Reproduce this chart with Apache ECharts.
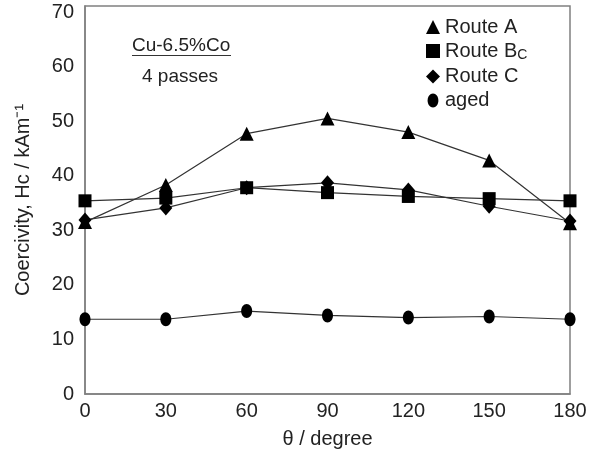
<!DOCTYPE html>
<html><head><meta charset="utf-8">
<script src="https://cdn.jsdelivr.net/npm/echarts@6/dist/echarts.min.js"></script>
<style>html,body{margin:0;padding:0;background:#fff}#c{width:592px;height:456px}</style>
</head><body><div id="c"></div>
<script>
var angles = [0, 30, 60, 90, 120, 150, 180];
var routeA = [31.5, 38.3, 47.7, 50.5, 48.0, 42.8, 31.3];
var routeBc = [35.4, 35.9, 37.8, 36.9, 36.2, 35.8, 35.4];
var routeC = [31.9, 34.1, 37.8, 38.7, 37.4, 34.4, 31.7];
var aged = [13.7, 13.7, 15.2, 14.4, 14.0, 14.2, 13.7];
var yTicks = [0, 10, 20, 30, 40, 50, 60, 70];

function pairs(v){ return angles.map(function(a,i){ return [a, v[i]]; }); }
var font = 'Liberation Sans, Arial, sans-serif';
var ellipse = 'path://M5,0 C7.8,0 10,2.9 10,6.5 C10,10.1 7.8,13 5,13 C2.2,13 0,10.1 0,6.5 C0,2.9 2.2,0 5,0 Z';
function ser(name, data, symbol, size){
  return {name:name, type:'line', data:pairs(data), symbol:symbol, symbolSize:size,
    lineStyle:{color:'#333', width:1.2}, itemStyle:{color:'#000', borderWidth:0},
    emphasis:{disabled:true}, animation:false};
}
var chart = echarts.init(document.getElementById('c'));
chart.setOption({
  animation:false,
  grid:{left:85, right:22, top:6, bottom:62, show:true, borderColor:'#808080', borderWidth:1.5, containLabel:false},
  xAxis:{type:'value', min:0, max:180, interval:30,
    name:'θ / degree', nameLocation:'middle', nameGap:35,
    nameTextStyle:{fontFamily:font, fontSize:20, color:'#222'},
    axisLine:{show:true, lineStyle:{color:'#808080', width:1.5}}, axisTick:{show:false}, splitLine:{show:false},
    axisLabel:{fontFamily:font, fontSize:20, color:'#222', margin:7}},
  yAxis:{type:'value', min:0, max:71.1, interval:10,
    name:'Coercivity, Hc / kAm⁻¹', nameLocation:'middle', nameGap:52,
    nameTextStyle:{fontFamily:font, fontSize:20, color:'#222'},
    axisLine:{show:true, lineStyle:{color:'#808080', width:1.5}}, axisTick:{show:false}, splitLine:{show:false},
    axisLabel:{fontFamily:font, fontSize:20, color:'#222', margin:11, showMaxLabel:false,
      formatter:function(v){ return yTicks.indexOf(v) >= 0 ? String(v) : ''; }}},
  legend:{orient:'vertical', left:421, top:12, itemGap:4, itemWidth:14, itemHeight:14,
    textStyle:{fontFamily:font, fontSize:20, color:'#222',
      rich:{sub:{fontFamily:font, fontSize:14, color:'#222', verticalAlign:'bottom', padding:[9,0,0,0]}}},
    formatter:function(n){ return n === 'Route Bc' ? 'Route B{sub|C}' : n; },
    data:[{name:'Route A', icon:'triangle'},{name:'Route Bc', icon:'rect'},{name:'Route C', icon:'diamond'},{name:'aged', icon:ellipse}],
    selectedMode:false},
  graphic:[
    {type:'text', left:132, top:36, style:{text:'Cu-6.5%Co', font:'19px Liberation Sans, Arial', fill:'#222'}},
    {type:'line', shape:{x1:132, y1:55.5, x2:231, y2:55.5}, style:{stroke:'#333', lineWidth:1.2}},
    {type:'text', left:142, top:67, style:{text:'4 passes', font:'19px Liberation Sans, Arial', fill:'#222'}}
  ],
  series:[
    ser('Route A', routeA, 'triangle', 14),
    ser('Route Bc', routeBc, 'rect', 13),
    ser('Route C', routeC, 'diamond', [13,15]),
    ser('aged', aged, ellipse, [11,14])
  ]
});
</script></body></html>
